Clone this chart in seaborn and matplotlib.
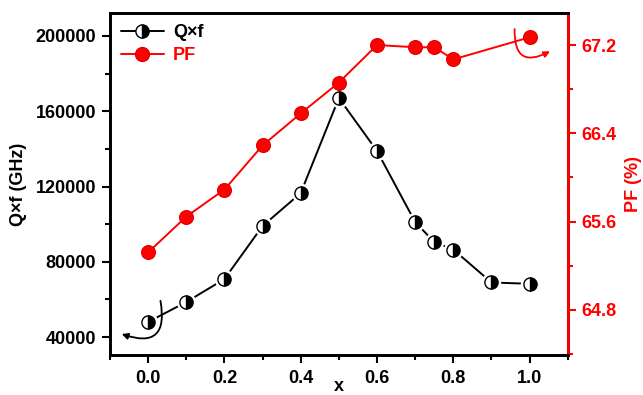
import matplotlib
matplotlib.use("Agg")
import matplotlib.pyplot as plt
import seaborn as sns
import pandas as pd
from matplotlib.lines import Line2D
from matplotlib.ticker import MultipleLocator

# ---- data ----
x_qf = [0.0, 0.1, 0.2, 0.3, 0.4, 0.5, 0.6, 0.7, 0.75, 0.8, 0.9, 1.0]
qf = [48000, 58600, 70800, 99000, 116500, 167000, 138900, 101100, 90500, 86500, 69000, 68300]
x_pf = [0.0, 0.1, 0.2, 0.3, 0.4, 0.5, 0.6, 0.7, 0.75, 0.8, 1.0]
pf = [65.32, 65.645, 65.89, 66.29, 66.58, 66.86, 67.20, 67.18, 67.18, 67.07, 67.27]
x_ticks = [0.0, 0.2, 0.4, 0.6, 0.8, 1.0]
qf_ticks = [40000, 80000, 120000, 160000, 200000]
pf_ticks = [64.8, 65.6, 66.4, 67.2]

sns.set_theme(style="ticks")
plt.rcParams["font.family"] = ["Liberation Sans", "DejaVu Sans"]
plt.rcParams["font.weight"] = "bold"
for k in ("text.color", "axes.labelcolor", "xtick.color", "ytick.color", "axes.edgecolor"):
    plt.rcParams[k] = "black"

RED = "#ff0000"
fs = 13

fig = plt.figure(figsize=(6.43, 3.95), dpi=100)
ax = fig.add_axes([0.171, 0.101, 0.712, 0.866])
ax2 = ax.twinx()

df_q = pd.DataFrame({"x": x_qf, "y": qf})
df_p = pd.DataFrame({"x": x_pf, "y": pf})

sns.lineplot(data=df_q, x="x", y="y", ax=ax, color="black", lw=1.4, zorder=2)
ax.plot(df_q["x"], df_q["y"], ls="none", marker="o", ms=13, mfc="white", mec="white", zorder=3)
ax.plot(df_q["x"], df_q["y"], ls="none", marker="o", ms=9.5, fillstyle="right",
        mfc="black", mfcalt="white", mec="black", mew=1.0, zorder=4)

sns.lineplot(data=df_p, x="x", y="y", ax=ax2, color=RED, lw=1.4, zorder=2)
ax2.plot(df_p["x"], df_p["y"], ls="none", marker="o", ms=10, mfc=RED, mec="#e00000", mew=0.8, zorder=3)

ax.set_xlim(-0.1, 1.1)
ax.set_ylim(30400, 212200)
ax2.set_ylim(64.39, 67.49)

ax.set_xticks(x_ticks)
ax.set_xticklabels([f"{v:.1f}" for v in x_ticks])
ax.xaxis.set_minor_locator(MultipleLocator(0.1))
ax.set_yticks(qf_ticks)
ax.set_yticklabels([str(v) for v in qf_ticks])
ax.yaxis.set_minor_locator(MultipleLocator(20000))
ax2.set_yticks(pf_ticks)
ax2.set_yticklabels([f"{v:.1f}" for v in pf_ticks])
ax2.yaxis.set_minor_locator(MultipleLocator(0.4))

for a in (ax, ax2):
    for s in a.spines.values():
        s.set_linewidth(2)
        s.set_visible(True)
        s.set_color("black")
ax2.spines["right"].set_color(RED)

ax.tick_params(axis="both", which="major", direction="out", length=6, width=1.5,
               labelsize=fs, pad=4, color="black", labelcolor="black")
ax.tick_params(axis="both", which="minor", direction="out", length=3.5, width=1.5, color="black")
ax.tick_params(axis="x", which="major", pad=5)
ax2.tick_params(axis="y", which="major", direction="out", length=6, width=1.5,
                labelsize=fs, colors=RED, pad=4)
ax2.tick_params(axis="y", which="minor", direction="out", length=3.5, width=1.5, colors=RED)
for lab in ax.get_xticklabels() + ax.get_yticklabels() + ax2.get_yticklabels():
    lab.set_fontweight("bold")

ax.set_xlabel("x", fontsize=fs, fontweight="bold", color="black")
ax.xaxis.set_label_coords(0.5, -0.066)
ax.set_ylabel("Q×f (GHz)", fontsize=fs, fontweight="bold", labelpad=6, color="black")
ax2.set_ylabel("PF (%)", fontsize=fs, fontweight="bold", color=RED, labelpad=6)

# arrows
ax.annotate("", xy=(-0.076, 42100), xytext=(0.031, 60700),
            arrowprops=dict(arrowstyle="-|>", color="black", lw=1.3,
                            connectionstyle="arc3,rad=-0.9", mutation_scale=9))
ax2.annotate("", xy=(1.06, 67.155), xytext=(0.961, 67.37),
             arrowprops=dict(arrowstyle="-|>", color=RED, lw=1.3,
                             connectionstyle="arc3,rad=0.9", mutation_scale=9))

h1 = Line2D([], [], color="black", lw=1.4, marker="o", ms=9.5, fillstyle="right",
            mfc="black", mfcalt="white", mec="black")
h2 = Line2D([], [], color=RED, lw=1.4, marker="o", ms=10, mfc=RED, mec="#e00000")
leg = ax2.legend([h1, h2], ["Q×f", "PF"], loc="upper left", frameon=False,
                 fontsize=fs, handlelength=2.4, handletextpad=0.5,
                 borderaxespad=0.2, labelspacing=0.35, bbox_to_anchor=(0.0, 1.0))
for t, c in zip(leg.get_texts(), ["black", RED]):
    t.set_color(c)
    t.set_fontweight("bold")

fig.savefig("out.png", dpi=100)
